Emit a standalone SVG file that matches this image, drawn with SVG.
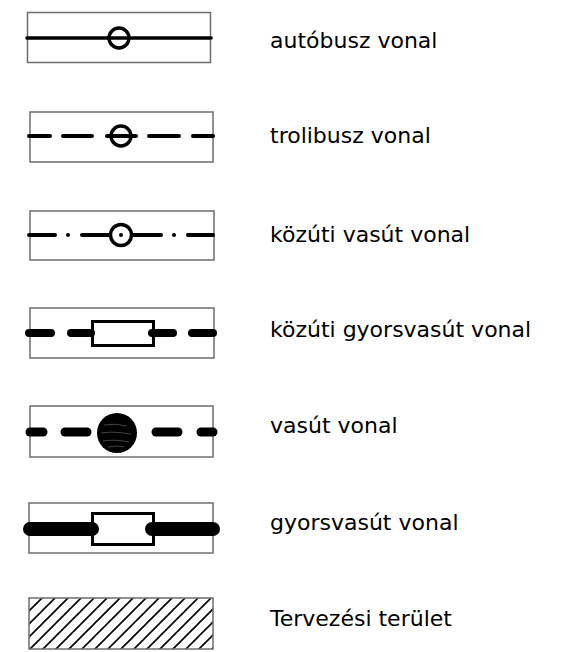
<svg xmlns="http://www.w3.org/2000/svg" width="572" height="652" viewBox="0 0 572 652">
<style>
.box{fill:none;stroke:#6e6e6e;stroke-width:1.5}
.ln{stroke:#000;fill:none;stroke-linecap:round}
.lbl{font-family:"DejaVu Sans",Verdana,sans-serif;font-size:22px;fill:#000}
</style>
<defs>
<pattern id="hatch" patternUnits="userSpaceOnUse" width="13" height="13" x="29" y="598">
<path d="M0,13 L13,0 M-3,3 L3,-3 M10,16 L16,10" stroke="#000" stroke-width="1.6"/>
</pattern>
</defs>
<rect width="572" height="652" fill="#fff"/>
<g id="autobusz">
<rect class="box" x="27.5" y="12.5" width="183" height="50"/>
<line class="ln" x1="27" y1="38" x2="211" y2="38" stroke-width="3.6"/>
<circle cx="119" cy="38" r="10" fill="none" stroke="#000" stroke-width="3.4"/>
<text class="lbl" x="270" y="48">autóbusz vonal</text>
</g>
<g id="trolibusz">
<rect class="box" x="30" y="112" width="183" height="50"/>
<g class="ln" stroke-width="4">
<line x1="29" y1="136" x2="50" y2="136"/>
<line x1="63" y1="136" x2="92" y2="136"/>
<line x1="107" y1="136" x2="136" y2="136"/>
<line x1="149" y1="136" x2="179" y2="136"/>
<line x1="193" y1="136" x2="213" y2="136"/>
</g>
<circle cx="121" cy="136" r="10" fill="none" stroke="#000" stroke-width="3.4"/>
<text class="lbl" x="270" y="143">trolibusz vonal</text>
</g>
<g id="kozuti-vasut">
<rect class="box" x="30" y="211" width="184" height="49"/>
<g class="ln" stroke-width="4">
<line x1="29" y1="235" x2="55" y2="235"/>
<line x1="82" y1="235" x2="110" y2="235"/>
<line x1="132" y1="235" x2="161" y2="235"/>
<line x1="188" y1="235" x2="213" y2="235"/>
</g>
<circle cx="68" cy="235" r="2"/>
<circle cx="174" cy="235" r="2"/>
<circle cx="121" cy="235" r="10.5" fill="#fff" stroke="#000" stroke-width="3.4"/>
<circle cx="121" cy="235" r="2"/>
<text class="lbl" x="270" y="241.5">közúti vasút vonal</text>
</g>
<g id="kozuti-gyorsvasut">
<rect class="box" x="30" y="308" width="184" height="50"/>
<rect x="92.5" y="321.5" width="61" height="24" fill="#fff" stroke="#000" stroke-width="3"/>
<g class="ln" stroke-width="8">
<line x1="29" y1="333" x2="51" y2="333"/>
<line x1="71" y1="333" x2="91" y2="333"/>
<line x1="152" y1="333" x2="173" y2="333"/>
<line x1="192" y1="333" x2="213" y2="333"/>
</g>
<text class="lbl" x="270" y="337">közúti gyorsvasút vonal</text>
</g>
<g id="vasut">
<rect class="box" x="30" y="406" width="183" height="51"/>
<g class="ln" stroke-width="9">
<line x1="30" y1="432" x2="43" y2="432"/>
<line x1="65" y1="432" x2="87" y2="432"/>
<line x1="156" y1="432" x2="178" y2="432"/>
<line x1="201" y1="432" x2="213" y2="432"/>
</g>
<circle cx="117" cy="433" r="20" fill="#000"/>
<g stroke="#555" stroke-width="0.8" fill="none">
<path d="M104,425 Q115,423 127,426"/>
<path d="M101,433 Q113,431 131,434"/>
<path d="M103,441 Q114,439 129,442"/>
<path d="M108,447 Q117,445 124,447"/>
</g>
<text class="lbl" x="270" y="433">vasút vonal</text>
</g>
<g id="gyorsvasut">
<rect class="box" x="29" y="503" width="184" height="50"/>
<rect x="92.5" y="513.5" width="61" height="31" fill="#fff" stroke="#000" stroke-width="3"/>
<g class="ln" stroke-width="14">
<line x1="30" y1="529" x2="92" y2="529"/>
<line x1="152" y1="529" x2="213" y2="529"/>
</g>
<text class="lbl" x="270" y="530">gyorsvasút vonal</text>
</g>
<g id="tervezesi-terulet">
<rect x="29" y="598" width="184" height="51" fill="url(#hatch)"/>
<rect class="box" x="29" y="598" width="184" height="51"/>
<text class="lbl" x="270" y="626">Tervezési terület</text>
</g>
</svg>
